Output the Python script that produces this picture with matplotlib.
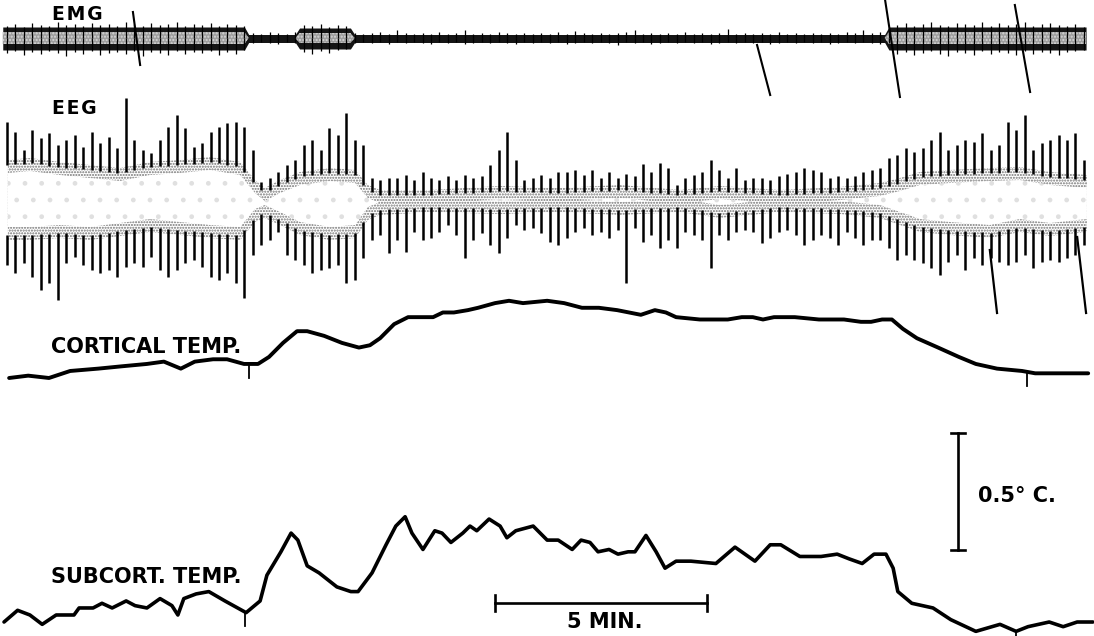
import numpy as np
import matplotlib.pyplot as plt

# time in minutes; temperatures in deg C above the starting level
cort_t = [0.05, 0.50, 0.99, 1.49, 2.15, 2.71, 3.30, 3.70, 4.10, 4.43,
          4.86, 5.19, 5.59, 5.92, 6.18, 6.51, 6.84, 7.08, 7.48, 7.90,
          8.30, 8.56, 8.80, 9.13, 9.46, 9.79, 10.05, 10.28, 10.54, 10.87,
          11.11, 11.51, 11.84, 12.17, 12.74, 13.14, 13.56, 13.96, 14.39, 14.95,
          15.28, 15.54, 15.78, 16.34, 17.00, 17.33, 17.59, 17.83, 18.09, 18.58,
          19.15, 19.74, 20.14, 20.38, 20.64, 20.87, 21.13, 21.46, 21.96, 22.45,
          22.85, 23.35, 23.94, 24.25, 24.91, 25.50]
cort_T = [0.00, 0.01, 0.00, 0.03, 0.04, 0.05, 0.06, 0.07, 0.04, 0.07,
          0.08, 0.08, 0.06, 0.06, 0.09, 0.15, 0.20, 0.20, 0.18, 0.15,
          0.13, 0.14, 0.17, 0.23, 0.26, 0.26, 0.26, 0.28, 0.28, 0.29,
          0.30, 0.32, 0.33, 0.32, 0.33, 0.32, 0.30, 0.30, 0.29, 0.27,
          0.29, 0.28, 0.26, 0.25, 0.25, 0.26, 0.26, 0.25, 0.26, 0.26,
          0.25, 0.25, 0.24, 0.24, 0.25, 0.25, 0.21, 0.17, 0.13, 0.09,
          0.06, 0.04, 0.03, 0.02, 0.02, 0.02]

sub_t = [-0.07, 0.25, 0.54, 0.83, 1.16, 1.58, 1.70, 2.03, 2.24, 2.48,
         2.81, 3.02, 3.30, 3.61, 3.89, 4.03, 4.17, 4.46, 4.76, 5.14,
         5.64, 5.97, 6.13, 6.46, 6.70, 6.86, 7.08, 7.36, 7.78, 8.11,
         8.28, 8.61, 8.94, 9.17, 9.39, 9.55, 9.81, 10.09, 10.26, 10.47,
         10.75, 10.92, 11.08, 11.37, 11.63, 11.79, 12.00, 12.41, 12.74, 13.00,
         13.33, 13.54, 13.75, 13.94, 14.20, 14.41, 14.65, 14.81, 15.07, 15.31,
         15.52, 15.78, 16.13, 16.72, 17.17, 17.64, 18.00, 18.25, 18.70, 19.20,
         19.58, 19.86, 20.17, 20.45, 20.73, 20.90, 21.01, 21.34, 21.84, 22.26,
         22.85, 23.42, 23.80, 24.08, 24.58, 24.91, 25.24, 25.61]
sub_T = [0.00, 0.05, 0.03, -0.01, 0.03, 0.03, 0.06, 0.06, 0.08, 0.06,
         0.09, 0.07, 0.06, 0.10, 0.07, 0.03, 0.10, 0.12, 0.13, 0.09,
         0.04, 0.09, 0.20, 0.30, 0.38, 0.35, 0.24, 0.21, 0.15, 0.13,
         0.13, 0.21, 0.33, 0.41, 0.45, 0.38, 0.31, 0.39, 0.38, 0.34,
         0.38, 0.41, 0.39, 0.44, 0.41, 0.36, 0.39, 0.41, 0.35, 0.35,
         0.31, 0.35, 0.34, 0.30, 0.31, 0.29, 0.30, 0.30, 0.37, 0.30,
         0.23, 0.26, 0.26, 0.25, 0.32, 0.26, 0.33, 0.33, 0.28, 0.28,
         0.29, 0.27, 0.25, 0.29, 0.29, 0.23, 0.13, 0.08, 0.06, 0.01,
         -0.04, -0.01, -0.04, -0.02, 0.00, -0.02, 0.00, 0.00]

# event marker times on the temperature records
cort_marks = [5.71, 24.06]
sub_marks = [5.61, 23.80]

# EEG: one deflection every 0.2 min, tip amplitude (arbitrary units)
eeg_step = 0.2
eeg_up = [83, 73, 55, 75, 67, 72, 60, 65, 70, 58,
          73, 62, 68, 57, 107, 65, 55, 52, 65, 78,
          90, 77, 58, 62, 73, 78, 82, 83, 78, 55,
          23, 27, 33, 40, 45, 60, 65, 55, 77, 70,
          92, 65, 60, 27, 25, 27, 27, 30, 25, 33,
          27, 25, 29, 25, 30, 27, 29, 40, 55, 73,
          45, 25, 27, 30, 27, 33, 33, 35, 30, 35,
          27, 33, 27, 31, 29, 41, 33, 42, 37, 20,
          27, 30, 33, 45, 35, 27, 37, 25, 27, 27,
          25, 29, 31, 33, 37, 35, 33, 27, 29, 27,
          29, 33, 35, 37, 47, 50, 57, 53, 57, 65,
          73, 55, 60, 65, 63, 72, 55, 60, 83, 75,
          90, 55, 62, 65, 70, 65, 72, 45]
eeg_down = [-60, -68, -58, -72, -85, -78, -95, -58, -52, -60,
            -65, -68, -65, -72, -62, -58, -62, -52, -65, -72,
            -65, -58, -55, -62, -72, -75, -68, -78, -93, -50,
            -40, -35, -27, -50, -55, -60, -68, -65, -63, -60,
            -78, -75, -53, -35, -30, -48, -35, -47, -27, -35,
            -33, -27, -20, -30, -53, -35, -28, -40, -48, -33,
            -20, -25, -23, -28, -37, -40, -33, -27, -23, -30,
            -27, -33, -25, -78, -23, -37, -30, -43, -35, -43,
            -27, -30, -35, -63, -30, -35, -27, -25, -27, -38,
            -33, -27, -25, -30, -40, -35, -30, -33, -40, -27,
            -33, -40, -35, -35, -43, -55, -50, -55, -58, -63,
            -70, -57, -50, -65, -53, -60, -53, -57, -60, -57,
            -50, -63, -57, -55, -57, -53, -50, -40]
# edges of the dense (stippled) part of the EEG trace
band_t = [0.02, 0.54, 1.25, 1.96, 2.67, 3.37, 4.08, 4.79, 5.50, 5.85, 6.08,
          6.44, 6.91, 7.62, 8.21, 8.51, 8.80, 9.98, 11.63, 13.04, 14.46,
          15.87, 16.82, 18.23, 19.65, 20.59, 21.06, 21.53, 22.24, 23.18,
          23.89, 24.60, 25.47]
band_up = [45, 47, 43, 40, 37, 43, 45, 48, 43, 25, 17, 25, 33, 37, 35, 20, 15,
           15, 19, 17, 20, 15, 19, 15, 18, 22, 27, 33, 35, 37, 38, 33, 30]
band_lo = [-35, -35, -33, -35, -31, -27, -30, -33, -35, -17, -13, -20, -30,
           -35, -33, -15, -10, -7, -9, -7, -10, -7, -13, -7, -9, -13, -20,
           -27, -30, -33, -27, -31, -27]
eeg_strokes_t = [(23.18, 23.35), (25.24, 25.45)]
eeg_strokes_v = [(-45, -108), (-32, -108)]

# EMG: envelope of the band and one deflection every 0.2 min
emg_env_t = [-0.1, 5.6, 5.7, 6.8, 6.9, 8.1, 8.2, 20.7, 20.8, 25.45]
emg_outer = [11, 11, 3.5, 3.5, 10, 10, 3.5, 3.5, 11, 11]
emg_inner = [6, 6, 0, 0, 5, 5, 0, 0, 6, 6]
emg_step = 0.2
emg_up = ([12, 14, 11, 15, 13, 12, 16, 13, 14, 12, 15, 13, 14, 12, 16,
           14, 12, 15, 13, 14, 16, 12, 14, 13, 15, 12, 14, 13, 12]
          + [5, 4, 6, 5, 4, 6]
          + [13, 12, 14, 11, 13, 12]
          + [5, 4, 5, 6, 4, 8, 5, 4, 5, 4, 6, 4, 5, 8, 4, 5, 4, 6, 5, 4,
             5, 4, 5, 4, 6, 4, 7, 5, 4, 5, 4, 5, 6, 8, 4, 5, 4, 5, 4, 6,
             4, 5, 4, 5, 9, 4, 5, 4, 5, 4, 6, 4, 5, 4, 5, 4, 5, 4, 6, 5,
             8, 5, 6, 7]
          + [13, 15, 12, 14, 16, 13, 12, 15, 14, 13, 16, 12, 15, 13, 14,
             16, 12, 14, 15, 13, 12, 14, 11])
emg_down = ([15, 13, 17, 14, 16, 13, 15, 18, 14, 16, 13, 17, 15, 14, 16,
             13, 18, 14, 15, 17, 13, 16, 14, 15, 13, 17, 14, 16, 12]
            + [5, 4, 5, 6, 4, 5]
            + [14, 16, 13, 15, 12, 11]
            + [5, 4, 5, 4, 6, 4, 5, 4, 5, 6, 4, 5, 4, 6, 5, 4, 5, 4, 5, 6,
               4, 5, 4, 5, 4, 6, 5, 4, 5, 4, 5, 7, 4, 5, 4, 6, 5, 4, 5, 4,
               5, 4, 6, 5, 4, 5, 4, 5, 4, 6, 5, 4, 5, 4, 5, 4, 6, 5, 4, 5,
               4, 5, 6, 5]
            + [16, 14, 17, 15, 13, 16, 18, 14, 15, 17, 13, 16, 14, 15, 17,
               13, 16, 14, 15, 17, 14, 13, 12])
emg_strokes_t = [(2.97, 3.14), (17.69, 18.00), (20.71, 21.06), (23.77, 24.13)]
emg_strokes_v = [(26, -27), (-7, -57), (38, -59), (33, -54)]

scale_min = 5.0
scale_deg = 0.5

CORT_BASE = 1.1026
SUB_BASE = 0.0598
XLIM = (-0.165, 25.637)
LABEL = dict(fontweight='bold', family='DejaVu Sans', color='k')

fig = plt.figure(figsize=(10.94, 6.36), dpi=100)

# ---- EMG ----
ax_emg = fig.add_axes([0, 1 - 100 / 636, 1, 100 / 636])
ax_emg.set_xlim(XLIM)
ax_emg.set_ylim(-62, 38)
ax_emg.axis('off')
ax_emg.fill_between(emg_env_t, [-v - 1 for v in emg_outer], emg_outer,
                    color='0.08', lw=0)
ax_emg.fill_between(emg_env_t, [-v for v in emg_inner], emg_inner,
                    facecolor='0.62', edgecolor='0.85', hatch='.....', lw=0)
te = np.arange(len(emg_up)) * emg_step
ax_emg.vlines(te, 0, emg_up, color='k', lw=0.9)
ax_emg.vlines(te, 0, [-v for v in emg_down], color='k', lw=0.9)
for (t0, t1), (v0, v1) in zip(emg_strokes_t, emg_strokes_v):
    ax_emg.plot([t0, t1], [v0, v1], color='k', lw=1.5, clip_on=False)
ax_emg.text(1.07, 23, 'E\u200aM\u200aG', fontsize=13.5, va='center',
            ha='left', **LABEL)

# ---- EEG ----
ax_eeg = fig.add_axes([0, 1 - 315 / 636, 1, 225 / 636])
ax_eeg.set_xlim(XLIM)
ax_eeg.set_ylim(-110, 115)
ax_eeg.axis('off')
bu = np.array(band_up, float)
bl = np.array(band_lo, float)
# stippled band, open (white) centre where the trace is wide
ax_eeg.fill_between(band_t, bl, bu, facecolor='white', edgecolor='0.45',
                    hatch='......', lw=0)
iu = bu - 13
il = bl + 13
ax_eeg.fill_between(band_t, il, iu, where=iu > il, interpolate=True,
                    facecolor='white', edgecolor='0.88', hatch='.', lw=0)
tk = np.arange(len(eeg_up)) * eeg_step
ax_eeg.vlines(tk, np.interp(tk, band_t, bu) - 5, eeg_up, color='k', lw=1.8)
ax_eeg.vlines(tk, np.interp(tk, band_t, bl) + 5, eeg_down, color='k', lw=1.8)
for (t0, t1), (v0, v1) in zip(eeg_strokes_t, eeg_strokes_v):
    ax_eeg.plot([t0, t1], [v0, v1], color='k', lw=1.6, clip_on=False)
ax_eeg.text(1.07, 97, 'E\u200aE\u200aG', fontsize=13.5, va='center',
            ha='left', **LABEL)

# ---- temperatures ----
ax_t = fig.add_axes([0, 0, 1, 356 / 636])
ax_t.set_xlim(XLIM)
ax_t.set_ylim(0, 356 / 234)
ax_t.axis('off')
ax_t.patch.set_alpha(0)

cort = np.array(cort_T) + CORT_BASE
sub = np.array(sub_T) + SUB_BASE
ax_t.plot(cort_t, cort, color='k', lw=2.8, solid_joinstyle='round',
          solid_capstyle='round')
ax_t.plot(sub_t, sub, color='k', lw=2.6, solid_joinstyle='round',
          solid_capstyle='round')
for t in cort_marks:
    y = np.interp(t, cort_t, cort)
    ax_t.plot([t, t], [y, y - 0.06], color='k', lw=1.3)
for t in sub_marks:
    y = np.interp(t, sub_t, sub)
    ax_t.plot([t, t], [y, y - 0.06], color='k', lw=1.3, clip_on=False)

ax_t.text(1.03, 1.235, 'CORTICAL TEMP.', fontsize=15, va='center',
          ha='left', **LABEL)
ax_t.text(1.03, 0.252, 'SUBCORT. TEMP.', fontsize=15, va='center',
          ha='left', **LABEL)

# 0.5 deg C calibration bar
xb, yb = 22.43, 0.3675
ax_t.plot([xb, xb], [yb, yb + scale_deg], color='k', lw=1.9)
for y in (yb, yb + scale_deg):
    ax_t.plot([xb - 0.16, xb + 0.16], [y, y], color='k', lw=1.9)
ax_t.text(22.9, yb + scale_deg / 2 - 0.02, '0.5\u00b0 C.', fontsize=15,
          va='center', ha='left', **LABEL)

# 5 min time bar
xs, ys = 11.51, 0.141
ax_t.plot([xs, xs + scale_min], [ys, ys], color='k', lw=1.9)
for x in (xs, xs + scale_min):
    ax_t.plot([x, x], [ys - 0.035, ys + 0.035], color='k', lw=1.9)
ax_t.text(14.1, 0.058, '5 MIN.', fontsize=15, va='center', ha='center',
          **LABEL)

fig.savefig('out.png', dpi=100)
